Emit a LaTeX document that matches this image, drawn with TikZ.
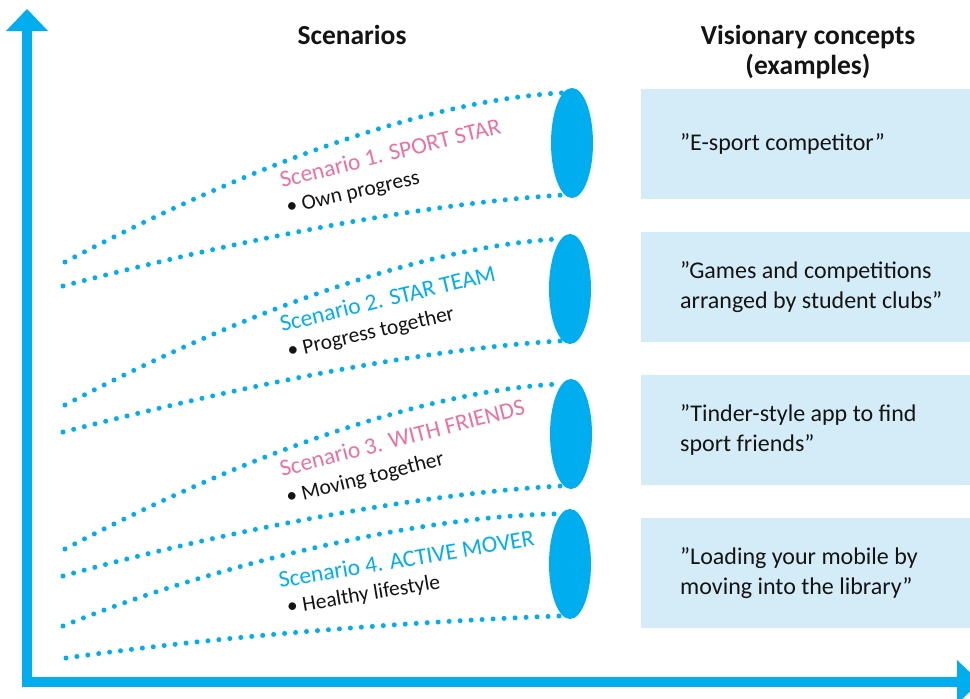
\documentclass[tikz,border=0pt]{standalone}
\usepackage{fontspec}
\setmainfont{Carlito}
\usetikzlibrary{shapes.geometric}
\definecolor{axisblue}{RGB}{0,174,239}
\definecolor{scpink}{RGB}{236,112,160}
\definecolor{boxblue}{RGB}{211,236,248}
\definecolor{txt}{RGB}{20,20,20}
\begin{document}
\begin{tikzpicture}[x=1pt,y=-1pt,
  dotline/.style={draw=axisblue, line width=5pt, line cap=round, dash pattern=on 0pt off 11pt},
  lens/.style={ellipse, fill=axisblue, minimum width=42pt, minimum height=110pt, inner sep=0pt},
  sclabel/.style={anchor=base west, inner sep=0pt, font=\fontsize{23.5}{28}\selectfont},
  bulletlabel/.style={anchor=base west, inner sep=0pt, font=\fontsize{21.5}{26}\selectfont, text=txt},
  concept/.style={fill=boxblue, minimum width=340pt, minimum height=110pt, anchor=north west, inner sep=0pt},
  ctext/.style={anchor=west, align=left, inner sep=0pt, font=\fontsize{24}{30}\selectfont, text=txt},
  head/.style={anchor=base, inner sep=0pt, font=\bfseries\fontsize{27.5}{32}\selectfont, text=txt}]
\useasboundingbox (0,0) rectangle (970,699);
\clip (0,0) rectangle (970,699);

% axes
\coordinate (ytop) at (27,30);
\coordinate (origin) at (27,682);
\coordinate (xend) at (958,682);
\draw[axisblue, line width=10pt] (ytop) -- (origin) -- (xend);
\fill[axisblue] (6,31) -- (27,9) -- (48,31) -- cycle;
\fill[axisblue] (957,660) -- (980,682) -- (957,704) -- cycle;

% headers
\node[head] (h1) at (352,44) {Scenarios};
\node[head] (h2) at (808,44) {Visionary concepts};
\node[head] (h3) at (808,74) {(examples)};

% lenses
\node[lens] (e1) at (572,143) {};
\node[lens] (e2) at (570,289) {};
\node[lens] (e3) at (571,434) {};
\node[lens] (e4) at (570,564) {};

% start points
\coordinate (s1t) at (65,262);
\coordinate (s1b) at (63,286);
\coordinate (s2t) at (65,405);
\coordinate (s2b) at (63,432);
\coordinate (s3t) at (65,549);
\coordinate (s3b) at (63,576);
\coordinate (s4t) at (63,626);
\coordinate (s4b) at (66,658);

% dotted beams
\draw[dotline] (s1t) .. controls (230,175) and (420,100) .. (e1.100);
\draw[dotline] (s1b) .. controls (200,250) and (400,205) .. (e1.262);
\draw[dotline] (s2t) .. controls (230,318) and (420,246) .. (e2.100);
\draw[dotline] (s2b) .. controls (200,397) and (400,350) .. (e2.262);
\draw[dotline] (s3t) .. controls (230,462) and (420,390) .. (e3.100);
\draw[dotline] (s3b) .. controls (220,532) and (420,493) .. (e3.262);
\draw[dotline] (s4t) .. controls (210,566) and (420,515) .. (e4.100);
\draw[dotline] (s4b) .. controls (250,632) and (450,620) .. (e4.262);

% scenario labels
\node[sclabel, text=scpink, rotate=14] (l1) at (282,188) {Scenario 1. SPORT STAR};
\node[bulletlabel, rotate=13] (b1) at (288,214) {• Own progress};
\node[sclabel, text=axisblue, rotate=13.5] (l2) at (282,332) {Scenario 2. STAR TEAM};
\node[bulletlabel, rotate=13] (b2) at (289,358) {• Progress together};
\node[sclabel, text=scpink, rotate=14.5] (l3) at (282,477) {Scenario 3. WITH FRIENDS};
\node[bulletlabel, rotate=14] (b3) at (288,504) {• Moving together};
\node[sclabel, text=axisblue, rotate=9.5] (l4) at (280,588) {Scenario 4. ACTIVE MOVER};
\node[bulletlabel, rotate=9.5] (b4) at (288,614) {• Healthy lifestyle};

% concept boxes
\node[concept] (c1) at (641,89) {};
\node[concept] (c2) at (641,232) {};
\node[concept] (c3) at (641,375) {};
\node[concept] (c4) at (641,518) {};
\node[ctext] (t1) at ([xshift=39pt]c1.west) {”E-sport competitor”};
\node[ctext] (t2) at ([xshift=39pt]c2.west) {”Games and competitions\\arranged by student clubs”};
\node[ctext] (t3) at ([xshift=39pt]c3.west) {”Tinder-style app to find\\sport friends”};
\node[ctext] (t4) at ([xshift=39pt]c4.west) {”Loading your mobile by\\moving into the library”};
\end{tikzpicture}
\end{document}
